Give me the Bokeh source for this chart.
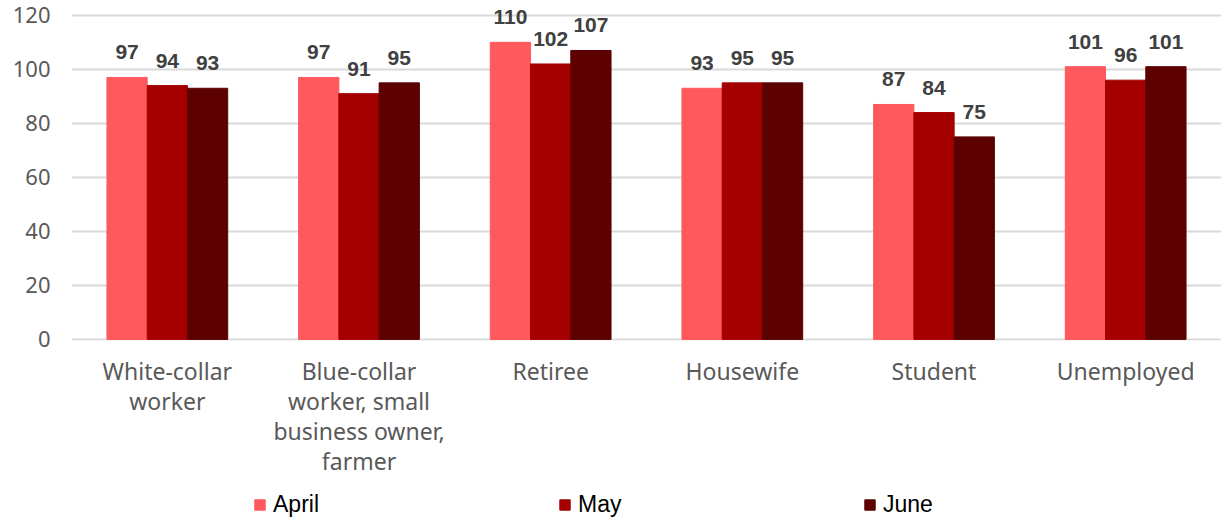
from bokeh.plotting import figure
from bokeh.models import ColumnDataSource, Legend, LegendItem, FactorRange
from bokeh.layouts import column
from bokeh.transform import dodge
from bokeh.core.properties import value
from bokeh.embed import file_html
from bokeh.resources import INLINE

categories = ["White-collar worker", "Blue-collar worker, small business owner, farmer",
              "Retiree", "Housewife", "Student", "Unemployed"]
category_labels = ["White-collar\nworker", "Blue-collar\nworker, small\nbusiness owner,\nfarmer",
                   "Retiree", "Housewife", "Student", "Unemployed"]
april = [97, 97, 110, 93, 87, 101]
may = [94, 91, 102, 95, 84, 96]
june = [93, 95, 107, 95, 75, 101]
series_names = ["April", "May", "June"]
y_ticks = [0, 20, 40, 60, 80, 100, 120]

colors = ["#FF585D", "#A50000", "#5C0000"]

W = 1221
LEFT = 71

src = ColumnDataSource(dict(cat=categories, April=april, May=may, June=june,
                            lA=[str(v) for v in april], lM=[str(v) for v in may], lJ=[str(v) for v in june]))

xr = FactorRange(*categories)
p = figure(x_range=xr, y_range=(-0.4, 125.5), width=W, height=355,
           output_backend="svg", toolbar_location=None,
           min_border_left=LEFT, min_border_right=0, min_border_top=0, min_border_bottom=15)
p.outline_line_color = None
p.xaxis.visible = False

bw = 0.21
offsets = [-bw, 0, bw]
label_cols = ["lA", "lM", "lJ"]
renderers = []
for name, off, col, lc in zip(series_names, offsets, colors, label_cols):
    r = p.vbar(x=dodge("cat", off, range=xr), top=name, width=bw, source=src,
               fill_color=col, line_color=col, line_width=1)
    renderers.append(r)
    p.text(x=dodge("cat", off, range=xr), y=name, text=lc, source=src,
           text_font=value("Liberation Sans"), text_font_style="bold", text_font_size="21px",
           text_color="#404040", text_align="center", text_baseline="middle", y_offset=-25)

p.xgrid.grid_line_color = None
p.ygrid.grid_line_color = "#D9D9D9"
p.ygrid.grid_line_width = 2
p.yaxis.ticker = y_ticks
p.yaxis.axis_line_color = None
p.yaxis.major_tick_line_color = None
p.yaxis.minor_tick_line_color = None
p.yaxis.major_label_text_font = "Noto Sans"
p.yaxis.major_label_text_font_size = "22px"
p.yaxis.major_label_text_color = "#595959"
p.yaxis.major_label_standoff = 15

# lower panel: category labels and legend
lines_cat, lines_txt, lines_off = [], [], []
for c, lab in zip(categories, category_labels):
    for i, t in enumerate(lab.split("\n")):
        lines_cat.append(c)
        lines_txt.append(t)
        lines_off.append(15 + 30 * i)
lsrc = ColumnDataSource(dict(cat=lines_cat, txt=lines_txt, off=lines_off, y=[0] * len(lines_cat)))

p2 = figure(x_range=xr, y_range=(-1, 0), width=W, height=166,
            output_backend="svg", toolbar_location=None,
            min_border_left=LEFT, min_border_right=0, min_border_top=0, min_border_bottom=0)
p2.outline_line_color = None
p2.axis.visible = False
p2.grid.visible = False
p2.text(x="cat", y="y", text="txt", y_offset="off", source=lsrc,
        text_font=value("Noto Sans"), text_font_size="23px", text_color="#595959",
        text_align="center", text_baseline="middle")

dummy = [p2.vbar(x=[categories[0]], top=[-0.5], width=0.1, fill_color=c, line_color=c, visible=False)
         for c in colors]
legend = Legend(items=[LegendItem(label=n, renderers=[r]) for n, r in zip(series_names, dummy)],
                orientation="horizontal", location=(182, 3),
                glyph_width=13, glyph_height=13, label_standoff=7, label_width=260, spacing=25,
                label_text_font="Liberation Sans", label_text_font_size="23px", label_text_color="#000000",
                padding=0, margin=0, border_line_color=None, background_fill_alpha=0, label_height=20)
p2.add_layout(legend, "center")

layout = column(p, p2, spacing=0)
open("out.html", "w").write(file_html(layout, INLINE))
